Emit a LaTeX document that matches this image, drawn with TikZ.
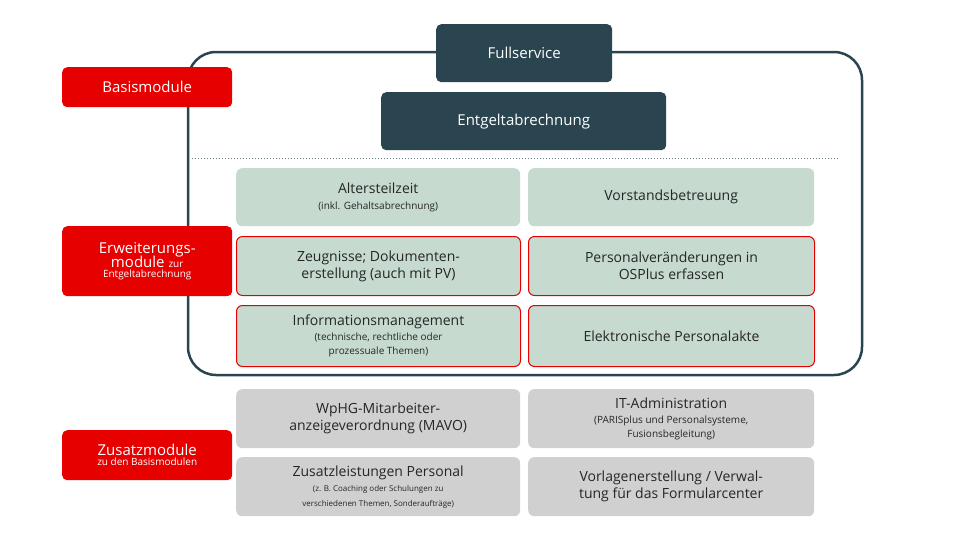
\documentclass[tikz,border=0pt]{standalone}
\usepackage{fontspec}
\setmainfont{Open Sans}
\definecolor{dk}{HTML}{2B4550}
\definecolor{rd}{HTML}{E60000}
\definecolor{gr}{HTML}{C6DACF}
\definecolor{gy}{HTML}{D0D0D0}
\newcommand\smf{\fontsize{10}{12}\selectfont}
\begin{document}
\begin{tikzpicture}[x=1pt,y=-1pt,
 darkbox/.style={fill=dk,draw=none,rounded corners=5pt,text=white,font=\fontsize{15}{18}\selectfont,anchor=north west,inner sep=0pt},
 lab/.style={fill=rd,rounded corners=5pt,text=white,anchor=north west,inner sep=0pt,align=center},
 mod/.style={rounded corners=6pt,anchor=north west,inner sep=0pt,align=center,text=black!85,font=\fontsize{14}{17}\selectfont,minimum width=284pt},
 gmod/.style={mod,fill=gr},
 rmod/.style={mod,fill=gr,draw=rd,line width=1pt},
 ymod/.style={mod,fill=gy}]
\path[use as bounding box] (0,0) rectangle (970,555);
\draw[dk,line width=2.5pt,rounded corners=28pt] (188,52) rectangle (862,375);
\node[darkbox,minimum width=176pt,minimum height=58pt] (fs) at (436,24) {Fullservice};
\node[darkbox,minimum width=285pt,minimum height=58pt] (ea) at (381,92) {Entgeltabrechnung};
\draw[dk!70,dotted,line width=1pt] (192,158) -- (838,158);
\node[lab,minimum width=170pt,minimum height=40pt,font=\fontsize{15}{18}\selectfont] (b) at (62,67) {Basismodule};
\node[lab,minimum width=170pt,minimum height=70pt] (e) at (62,226) {\fontsize{15}{17}\selectfont Erweiterungs-\\[-2pt]\fontsize{15}{17}\selectfont module {\smf zur}\\[-2pt]{\smf Entgeltabrechnung}};
\node[lab,minimum width=170pt,minimum height=50pt] (z) at (62,430) {\fontsize{15}{17}\selectfont Zusatzmodule\\[-2pt]{\smf zu den Basismodulen}};
\node[gmod,minimum height=58pt] (a1) at (236,168) {Altersteilzeit\\[-1pt]{\smf (inkl. Gehaltsabrechnung)}};
\node[gmod,minimum width=286pt,minimum height=58pt] (a2) at (528,168) {Vorstandsbetreuung};
\node[rmod,minimum height=59pt] (b1) at (236,236) {Zeugnisse; Dokumenten-\\erstellung (auch mit PV)};
\node[rmod,minimum width=286pt,minimum height=59pt] (b2) at (528,236) {Personalveränderungen in\\OSPlus erfassen};
\node[rmod,minimum height=61pt] (c1) at (236,305) {Informationsmanagement\\[-2pt]{\smf (technische, rechtliche oder}\\[-3pt]{\smf prozessuale Themen)}};
\node[rmod,minimum width=286pt,minimum height=61pt] (c2) at (528,305) {Elektronische Personalakte};
\node[ymod,minimum height=59pt] (d1) at (236,389) {WpHG-Mitarbeiter-\\anzeigeverordnung (MAVO)};
\node[ymod,minimum width=286pt,minimum height=59pt] (d2) at (528,389) {IT-Administration\\[-2pt]{\smf (PARISplus und Personalsysteme,}\\[-3pt]{\smf Fusionsbegleitung)}};
\node[ymod,minimum height=59pt] (f1) at (236,457) {Zusatzleistungen Personal\\[-2pt]{\fontsize{8}{10}\selectfont (z. B. Coaching oder Schulungen zu}\\[-2pt]{\fontsize{8}{10}\selectfont verschiedenen Themen, Sonderaufträge)}};
\node[ymod,minimum width=286pt,minimum height=59pt] (f2) at (528,457) {Vorlagenerstellung / Verwal-\\tung für das Formularcenter};
\end{tikzpicture}
\end{document}
